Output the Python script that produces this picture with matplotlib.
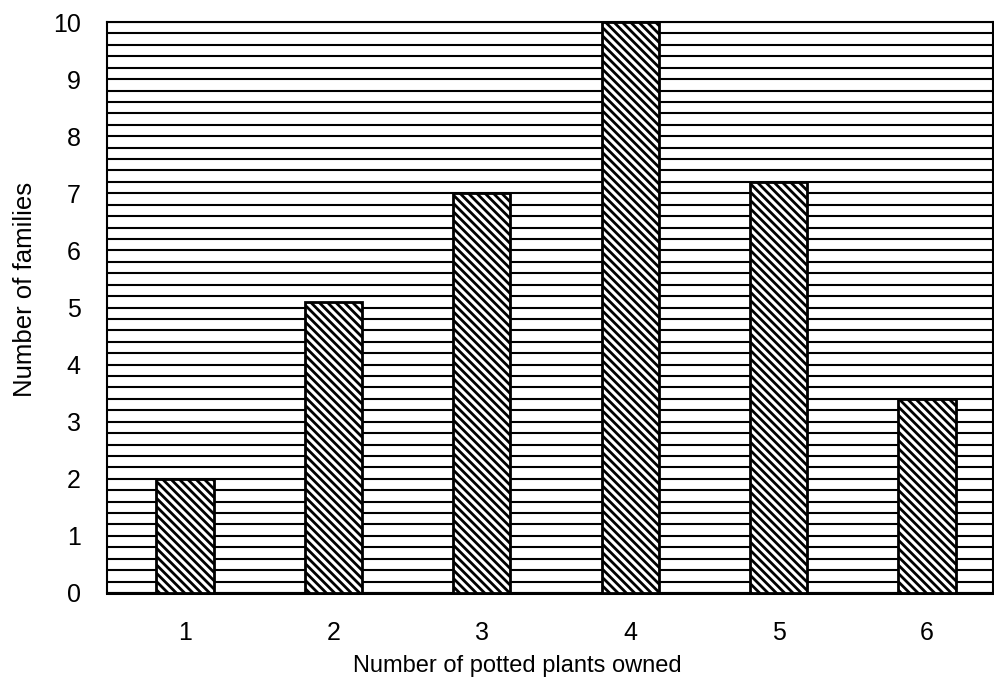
import matplotlib
matplotlib.use('Agg')
import matplotlib.pyplot as plt
from matplotlib.ticker import MultipleLocator

# Number of potted plants owned vs number of families
plants = [1, 2, 3, 4, 5, 6]
families = [2, 5.1, 7, 10, 7.2, 3.4]
y_ticks = [0, 1, 2, 3, 4, 5, 6, 7, 8, 9, 10]

plt.rcParams['font.family'] = ['Liberation Sans', 'DejaVu Sans']
plt.rcParams['hatch.linewidth'] = 2.0
plt.rcParams['hatch.color'] = 'black'

fig = plt.figure(figsize=(9.95, 6.82), dpi=100)
ax = fig.add_axes([107 / 995, 1 - 593 / 682, (993 - 107) / 995, (593 - 22) / 682])

# dense diagonal hatching like the printed chart
ax.bar(plants, families, width=0.385, color='white', edgecolor='black',
       linewidth=2.0, hatch='\\\\\\\\', zorder=3)

ax.set_xlim(0.474, 6.445)
ax.set_ylim(0, 10)
ax.set_xticks(plants)
ax.set_yticks(y_ticks)
ax.yaxis.set_minor_locator(MultipleLocator(0.2))
ax.yaxis.grid(True, which='both', color='black', linewidth=1.5)
ax.set_axisbelow(True)

ax.tick_params(axis='both', which='both', length=0, labelsize=18)
ax.tick_params(axis='x', pad=20)
ax.tick_params(axis='y', pad=19)

for side in ['left', 'right', 'top']:
    ax.spines[side].set_linewidth(1.5)
ax.spines['bottom'].set_linewidth(2.2)

ax.set_xlabel('Number of potted plants owned', fontsize=17)
ax.set_ylabel('Number of families', fontsize=18.5)
ax.xaxis.set_label_coords(0.463, -0.108)
ax.yaxis.set_label_coords(-0.079, 0.532)

fig.savefig('out.png', dpi=100)
